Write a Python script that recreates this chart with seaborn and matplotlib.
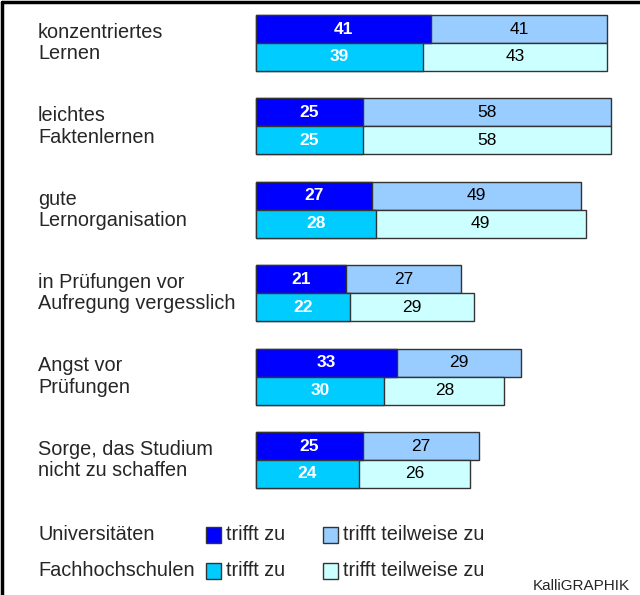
import matplotlib
matplotlib.use('Agg')
import matplotlib.pyplot as plt
import matplotlib.patches as mpatches
import seaborn as sns
import pandas as pd

# Daten
kategorien = ['konzentriertes\nLernen', 'leichtes\nFaktenlernen', 'gute\nLernorganisation',
              'in Prüfungen vor\nAufregung vergesslich', 'Angst vor\nPrüfungen',
              'Sorge, das Studium\nnicht zu schaffen']
schulen = ['Universitäten', 'Fachhochschulen']
uni_zu = [41, 25, 27, 21, 33, 25]
uni_teil = [41, 58, 49, 27, 29, 27]
fh_zu = [39, 25, 28, 22, 30, 24]
fh_teil = [43, 58, 49, 29, 28, 26]

farben_zu = ['#0000FF', '#00CCFF']
farben_teil = ['#99CCFF', '#CCFFFF']
legende_text = ['trifft zu', 'trifft teilweise zu']

rows = []
for i, k in enumerate(kategorien):
    rows.append({'Kategorie': k, 'Schule': schulen[0], 'zu': uni_zu[i], 'teil': uni_teil[i]})
    rows.append({'Kategorie': k, 'Schule': schulen[1], 'zu': fh_zu[i], 'teil': fh_teil[i]})
df = pd.DataFrame(rows)
df['gesamt'] = df['zu'] + df['teil']

sns.set_style('white')
plt.rcParams['font.family'] = ['Liberation Sans', 'DejaVu Sans']

W, H = 640, 595
fig = plt.figure(figsize=(6.4, 5.95), dpi=100)
ax = fig.add_axes([0, 0, 1, 1])

# gestapelt: erst gesamt (hell), dann "trifft zu" (dunkel) darueber
sns.barplot(data=df, y='Kategorie', x='gesamt', hue='Schule', order=kategorien,
            hue_order=schulen, palette=farben_teil, orient='h', width=0.67,
            edgecolor='#333333', linewidth=1, saturation=1, legend=False, ax=ax)
sns.barplot(data=df, y='Kategorie', x='zu', hue='Schule', order=kategorien,
            hue_order=schulen, palette=farben_zu, orient='h', width=0.67,
            edgecolor='#333333', linewidth=1, saturation=1, legend=False, ax=ax)

# Skalen so, dass 0 bei x=256px liegt, 4.28 px pro Prozent
px_per = 4.28
x0 = 256
ax.set_xlim(-x0 / px_per, (W - x0) / px_per)
y0, dy = 43, 83.4
ax.set_ylim((H - y0) / dy, -y0 / dy)
ax.axis('off')

off = 0.67 / 4
for i, k in enumerate(kategorien):
    for j, (zu, teil) in enumerate([(uni_zu[i], uni_teil[i]), (fh_zu[i], fh_teil[i])]):
        yy = i - off if j == 0 else i + off
        ax.text(zu / 2, yy, str(zu), ha='center', va='center', color='white',
                fontsize=12.5, fontweight='bold')
        ax.text(zu + teil / 2, yy, str(teil), ha='center', va='center', color='black',
                fontsize=12.5)
    ax.text(38 / W, i, k, transform=ax.get_yaxis_transform(), ha='left',
            va='center', fontsize=14.3, linespacing=1.15)

# Legende
def fx(px):
    return px / W

def fy(py):
    return 1 - py / H

row_y = [535, 571]
for r, schule in enumerate(schulen):
    fig.text(fx(38), fy(row_y[r]), schule, ha='left', va='center', fontsize=14.3)
    for c, (fa, lbl) in enumerate(zip([farben_zu[r], farben_teil[r]], legende_text)):
        sx = [206, 323][c]
        fig.patches.append(mpatches.Rectangle((fx(sx), fy(row_y[r] + 8)), 15 / W, 16 / H,
                                              transform=fig.transFigure, facecolor=fa,
                                              edgecolor='#333333', linewidth=1))
        fig.text(fx(sx + 20), fy(row_y[r]), lbl, ha='left', va='center', fontsize=14.3)

fig.text(fx(630), fy(586), 'KalliGRAPHIK', ha='right', va='center', fontsize=11)

# Rahmen oben und links
fig.add_artist(plt.Line2D([fx(2), fx(2)], [0, fy(2)], color='black', linewidth=2.5,
                          transform=fig.transFigure))
fig.add_artist(plt.Line2D([fx(2), 1], [fy(2), fy(2)], color='black', linewidth=2.5,
                          transform=fig.transFigure))

fig.savefig('out.png', dpi=100)
